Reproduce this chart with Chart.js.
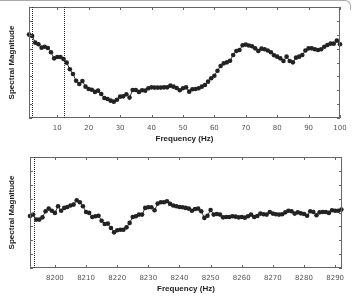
<!DOCTYPE html>
<html>
<head>
<meta charset="utf-8">
<script src="https://cdn.jsdelivr.net/npm/chart.js@4.4.0/dist/chart.umd.min.js"></script>
<style>
html, body { margin: 0; padding: 0; background: #fff; }
#wrap { position: relative; width: 356px; height: 296px; overflow: hidden; }
.box { position: absolute; left: 0; width: 356px; height: 148px; }
#corner { position: absolute; left: -4px; top: 0; width: 355px; height: 10px; border-top: 1px solid #aaa; border-right: 1px solid #aaa; border-top-right-radius: 6px; box-sizing: border-box; }
</style>
</head>
<body>
<div id="wrap">
  <div id="corner"></div>
  <div class="box" style="top:0"><canvas id="lowChart" width="356" height="148"></canvas></div>
  <div class="box" style="top:148px"><canvas id="highChart" width="356" height="148"></canvas></div>
</div>
<script>
'use strict';

// 低周波側 (1-100 Hz)
const lowStart = 1;
const lowMags = [
    6.01, 5.91, 5.43, 5.31, 5.07, 5.14, 5.05, 4.74, 4.30, 4.40,
    4.40, 4.25, 3.99, 3.51, 3.17, 2.69, 2.45, 2.67, 2.26, 2.09,
    2.04, 1.88, 1.97, 1.73, 1.44, 1.37, 1.25, 1.18, 1.32, 1.54,
    1.56, 1.71, 1.47, 2.02, 2.02, 1.88, 2.00, 1.97, 2.14, 2.21,
    2.19, 2.19, 2.19, 2.21, 2.21, 2.33, 2.26, 2.16, 2.00, 2.14,
    2.21, 1.90, 2.07, 2.09, 2.14, 2.26, 2.38, 2.62, 2.86, 3.05,
    3.41, 3.75, 3.94, 4.01, 4.13, 4.54, 4.83, 4.90, 5.24, 5.29,
    5.22, 5.17, 5.02, 4.83, 5.00, 4.95, 4.86, 4.74, 4.52, 4.42,
    4.30, 4.11, 4.42, 4.11, 4.01, 4.35, 4.42, 4.54, 4.86, 5.02,
    5.02, 4.95, 4.90, 4.95, 5.14, 5.26, 5.36, 5.36, 5.58, 5.31
];
const lowTicks = [10, 20, 30, 40, 50, 60, 70, 80, 90, 100];
const lowMarkers = [2, 12];

// 高周波側 (8192-8292 Hz)
const highStart = 8192;
const highMags = [
    3.75, 3.85, 3.49, 3.49, 3.65, 4.09, 4.28, 4.13, 3.97, 4.45,
    4.13, 4.33, 4.40, 4.50, 4.57, 4.88, 4.74, 4.45, 4.04, 3.97,
    3.68, 3.73, 3.77, 3.41, 3.17, 3.20, 2.88, 2.57, 2.72, 2.76,
    2.76, 2.93, 3.25, 3.68, 3.73, 3.85, 3.85, 4.33, 4.38, 4.38,
    4.16, 4.64, 4.74, 4.74, 4.81, 4.62, 4.50, 4.45, 4.40, 4.38,
    4.33, 4.28, 4.13, 4.25, 4.28, 4.09, 3.61, 3.77, 4.18, 3.85,
    3.89, 3.85, 3.65, 3.68, 3.68, 3.73, 3.70, 3.65, 3.68, 3.63,
    3.73, 3.85, 3.68, 3.75, 3.92, 3.87, 3.85, 4.04, 3.92, 3.87,
    3.85, 3.87, 4.01, 4.13, 4.09, 3.92, 4.01, 3.94, 3.89, 3.77,
    4.09, 4.04, 3.80, 4.01, 4.04, 4.04, 3.97, 4.16, 4.13, 4.13,
    4.21
];
const highTicks = [8200, 8210, 8220, 8230, 8240, 8250, 8260, 8270, 8280, 8290];
const highMarkers = [8193.4];

const yTicks = [0, 1, 2, 3, 4, 5, 6, 7, 8];

// 枠と内向きの目盛り、点線マーカー
const framePlugin = {
    id: 'frame',
    afterDatasetsDraw(chart, args, opts) {
        const ctx = chart.ctx;
        const a = chart.chartArea;
        const x = chart.scales.x, y = chart.scales.y;
        ctx.save();
        ctx.strokeStyle = '#666';
        ctx.lineWidth = 1;
        ctx.strokeRect(Math.round(a.left) + 0.5, Math.round(a.top) + 0.5,
            Math.round(a.right - a.left) - 1, Math.round(a.bottom - a.top) - 1);
        ctx.beginPath();
        x.ticks.forEach(t => {
            const px = Math.round(x.getPixelForValue(t.value)) + 0.5;
            ctx.moveTo(px, a.top); ctx.lineTo(px, a.top + 3);
            ctx.moveTo(px, a.bottom); ctx.lineTo(px, a.bottom - 3);
        });
        y.ticks.forEach(t => {
            const py = Math.round(y.getPixelForValue(t.value)) + 0.5;
            ctx.moveTo(a.left, py); ctx.lineTo(a.left + 3, py);
            ctx.moveTo(a.right, py); ctx.lineTo(a.right - 3, py);
        });
        ctx.stroke();

        ctx.strokeStyle = '#222';
        ctx.setLineDash([1, 1]);
        ctx.beginPath();
        opts.markers.forEach(m => {
            const px = Math.round(x.getPixelForValue(m)) + 0.5;
            ctx.moveTo(px, a.top);
            ctx.lineTo(px, a.bottom);
        });
        ctx.stroke();
        ctx.restore();
    }
};

function makeChart(id, start, mags, ticks, markers, xmin, xmax, opt) {
    const pts = [];
    for (let i = 0; i < mags.length; i++) {
        pts.push({ x: start + i, y: mags[i] });
    }
    return new Chart(document.getElementById(id), {
        type: 'line',
        data: {
            datasets: [{
                data: pts,
                borderColor: '#333',
                borderWidth: 1,
                pointRadius: 2.3,
                pointBackgroundColor: '#222',
                pointBorderWidth: 0,
                pointHoverRadius: 2.3,
                tension: 0,
                clip: false
            }]
        },
        options: {
            responsive: false,
            animation: false,
            events: [],
            layout: { padding: { top: opt.top, right: opt.right, left: 0, bottom: 0 } },
            plugins: {
                legend: { display: false },
                tooltip: { enabled: false },
                frame: { markers: markers }
            },
            scales: {
                x: {
                    type: 'linear',
                    min: xmin,
                    max: xmax,
                    grid: { display: false, drawTicks: false },
                    border: { display: false },
                    afterBuildTicks: s => { s.ticks = ticks.map(v => ({ value: v })); },
                    afterFit: s => { s.height = opt.xh; },
                    ticks: {
                        autoSkip: false,
                        maxRotation: 0,
                        padding: 6,
                        color: '#555',
                        font: { family: 'DejaVu Sans', size: 7 },
                        callback: v => String(v)
                    },
                    title: {
                        display: true,
                        text: 'Frequency (Hz)',
                        color: '#222',
                        font: { family: 'Liberation Sans', size: 8, weight: 'bold' },
                        padding: { top: 0, bottom: opt.tb }
                    }
                },
                y: {
                    min: 0,
                    max: 8,
                    grid: { display: false, drawTicks: false },
                    border: { display: false },
                    afterBuildTicks: s => { s.ticks = yTicks.map(v => ({ value: v })); },
                    afterFit: s => { s.width = opt.yw; },
                    ticks: { display: false },
                    title: {
                        display: true,
                        text: 'Spectral Magnitude',
                        color: '#222',
                        font: { family: 'Liberation Sans', size: 8, weight: 'bold' },
                        padding: { top: 7, bottom: 0 }
                    }
                }
            }
        },
        plugins: [framePlugin]
    });
}

makeChart('lowChart', lowStart, lowMags, lowTicks, lowMarkers, 1, 100,
    { top: 7, right: 16, xh: 30, yw: 29, tb: 4 });
makeChart('highChart', highStart, highMags, highTicks, highMarkers, 8192, 8292.2,
    { top: 9, right: 14, xh: 28, yw: 30, tb: 2 });
</script>
</body>
</html>
